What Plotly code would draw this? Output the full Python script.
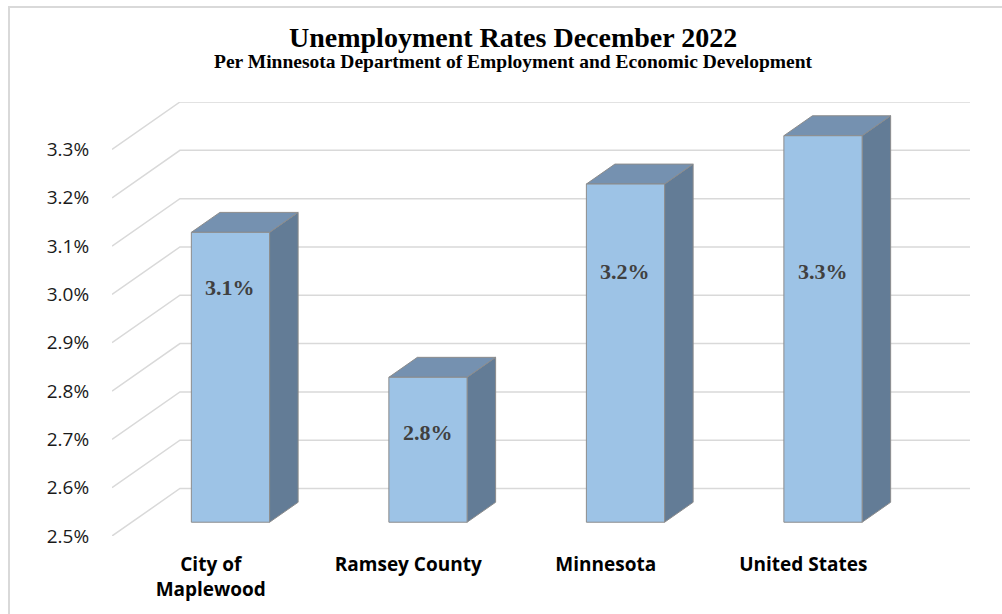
import plotly.graph_objects as go

# Unemployment rates, December 2022 (percent)
categories = ["City of<br>Maplewood", "Ramsey County", "Minnesota", "United States"]
rates = [3.1, 2.8, 3.2, 3.3]
value_ticks = [2.5, 2.6, 2.7, 2.8, 2.9, 3.0, 3.1, 3.2, 3.3]
tick_labels = [f"{v:.1f}%" for v in value_ticks]

# Oblique 3-D projection: full depth offset in axis units
DEPTH_X = 0.344      # category units
DEPTH_Y = 0.0983     # percentage points
BAR_FRONT, BAR_BACK = 0.29, 0.71   # bar depth as fraction of the floor depth
HALF_W = 0.198
BASE = value_ticks[0]
TOP = value_ticks[-1]

GRID = "#d9d9d9"
FRONT = "#9dc3e6"
ROOF = "#7591b0"
SIDE = "#637c96"
EDGE = "#8c8c8c"

fig = go.Figure()

# Walls: diagonal side-wall lines and horizontal back-wall lines
for v in value_ticks:
    fig.add_trace(go.Scatter(
        x=[-0.5, -0.5 + DEPTH_X, len(categories) - 0.5 + DEPTH_X],
        y=[v, v + DEPTH_Y, v + DEPTH_Y],
        mode="lines", line=dict(color=GRID, width=1.5),
        hoverinfo="skip", showlegend=False, cliponaxis=False))

# Bars drawn as three filled faces each
dx0, dy0 = BAR_FRONT * DEPTH_X, BAR_FRONT * DEPTH_Y
ddx, ddy = (BAR_BACK - BAR_FRONT) * DEPTH_X, (BAR_BACK - BAR_FRONT) * DEPTH_Y
for i, v in enumerate(rates):
    xl, xr = i - HALF_W + dx0, i + HALF_W + dx0
    yb, yt = BASE + dy0, v + dy0
    faces = [
        (SIDE, [xr, xr, xr + ddx, xr + ddx, xr], [yb, yt, yt + ddy, yb + ddy, yb]),
        (ROOF, [xl, xr, xr + ddx, xl + ddx, xl], [yt, yt, yt + ddy, yt + ddy, yt]),
        (FRONT, [xl, xr, xr, xl, xl], [yb, yb, yt, yt, yb]),
    ]
    for color, fx, fy in faces:
        fig.add_trace(go.Scatter(
            x=fx, y=fy, mode="lines", fill="toself", fillcolor=color,
            line=dict(color=EDGE, width=1), hoverinfo="skip",
            showlegend=False, cliponaxis=False))
    label_v = min(v - 0.115, 3.02)
    fig.add_annotation(
        x=i + dx0, y=label_v + dy0, text=f"<b>{v:.1f}%</b>", showarrow=False,
        font=dict(family="Liberation Serif", size=22, color="#404040"),
        xanchor="center", yanchor="middle")

fig.update_layout(
    width=1002, height=614, autosize=False,
    margin=dict(l=112, r=32, t=102, b=78),
    paper_bgcolor="white", plot_bgcolor="white",
    xaxis=dict(
        range=[-0.5, len(categories) - 0.5 + DEPTH_X],
        tickvals=list(range(len(categories))),
        ticktext=[f"<b>{c}</b>" for c in categories],
        tickfont=dict(family="Open Sans", size=19, color="#000000"),
        showgrid=False, zeroline=False, showline=False, automargin=False,
        ticks="outside", ticklen=11, tickcolor="rgba(0,0,0,0)"),
    yaxis=dict(
        range=[BASE, TOP + DEPTH_Y],
        tickvals=value_ticks, ticktext=tick_labels,
        tickfont=dict(family="Open Sans", size=19, color="#1a1a1a"),
        showgrid=False, zeroline=False, showline=False, automargin=False,
        ticks="outside", ticklen=18, tickcolor="rgba(0,0,0,0)"),
)

# Chart title and subtitle
fig.add_annotation(
    xref="paper", yref="paper", x=(513 - 112) / 858, y=(536 - 37) / 434,
    text="<b>Unemployment Rates December 2022</b>", showarrow=False,
    font=dict(family="Liberation Serif", size=28, color="#000000"),
    xanchor="center", yanchor="middle")
fig.add_annotation(
    xref="paper", yref="paper", x=(513 - 112) / 858, y=(536 - 62) / 434,
    text="<b>Per Minnesota Department of Employment and Economic Development</b>",
    showarrow=False,
    font=dict(family="Liberation Serif", size=19.5, color="#000000"),
    xanchor="center", yanchor="middle")

# Chart-area border
fig.add_shape(
    type="rect", xref="paper", yref="paper",
    x0=(9 - 112) / 858, x1=(1010 - 112) / 858,
    y0=(536 - 630) / 434, y1=(536 - 7) / 434,
    line=dict(color=GRID, width=2), fillcolor="rgba(0,0,0,0)", layer="below")

fig.write_html("out.html")
